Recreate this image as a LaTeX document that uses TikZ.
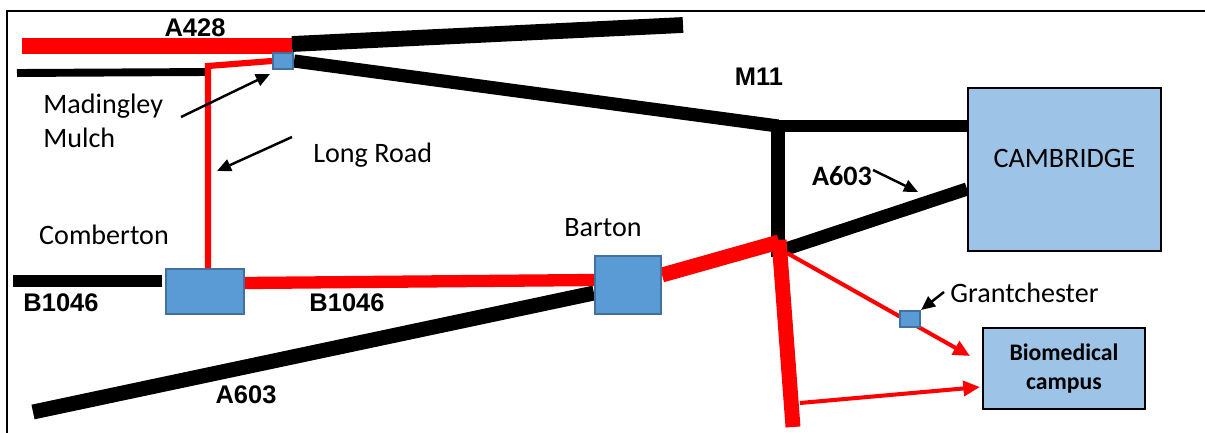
\documentclass[tikz,border=0pt]{standalone}
\usepackage{fontspec}
\setmainfont{Carlito}
\newfontfamily\roadfont{Liberation Sans}
\usetikzlibrary{arrows.meta,calc,positioning}
\definecolor{villageblue}{HTML}{5B9BD5}
\definecolor{villageedge}{HTML}{41719C}
\definecolor{townblue}{HTML}{9DC3E6}
\tikzset{
  village/.style={draw=villageedge,fill=villageblue,line width=1.2pt,inner sep=0pt},
  town/.style={draw=black,fill=townblue,line width=1pt,inner sep=0pt},
  place/.style={font=\fontsize{16}{19.5}\selectfont,inner sep=0pt},
  roadname/.style={font=\roadfont\bfseries\fontsize{14.5}{17}\selectfont,inner sep=0pt},
  pointer/.style={line width=1.4pt,-{Triangle[length=8pt,width=7pt]}},
  redpointer/.style={line width=2.3pt,red,-{Triangle[length=9.5pt,width=8.5pt]}}
}
\begin{document}
\begin{tikzpicture}[x=0.02cm,y=-0.02cm]
\useasboundingbox (0,0) rectangle (1205,433);
\draw[line width=1.2pt] (7,433) -- (7,11) -- (1205,11);

\coordinate (a428w) at (22,46);
\coordinate (a428m) at (292,46);
\coordinate (a428e) at (683,25);
\coordinate (a428j) at (292,44);
\coordinate (minorw) at (17,73);
\coordinate (minore) at (208,72);
\coordinate (longtop) at (208,66);
\coordinate (m11j) at (778,126);
\coordinate (m11s) at (778,257);
\coordinate (redj) at (779,242);
\coordinate (reds) at (793,427);
\coordinate (a603j) at (783,250);
\coordinate (a603w) at (33,412);
\coordinate (b1046w) at (13,281);
\coordinate (b1046e) at (162,281);

\node[village,minimum width=0.4cm,minimum height=0.32cm] (madingley) at (283,61) {};
\node[village,minimum width=1.56cm,minimum height=0.9cm] (comberton) at (205,291.5) {};
\node[village,minimum width=1.32cm,minimum height=1.16cm] (barton) at (628,285) {};
\node[town,minimum width=3.86cm,minimum height=3.26cm,
  label={[place,yshift=0.23cm]center:CAMBRIDGE}] (cambridge) at (1064.5,169.5) {};
\node[town,minimum width=3.24cm,minimum height=1.62cm,align=center,
  font=\bfseries\fontsize{13.5}{17}\selectfont] (biomed) at (1064,368.5) {Biomedical\\campus};

\coordinate (camw) at (cambridge.west |- m11j);
\coordinate (cama603) at (967,189);
\coordinate (biotipa) at (970,356);
\coordinate (biotipb) at (980,387);
\coordinate (biofoot) at (800,403);
\coordinate (redjb) at (787,253);

\draw[red,line width=9pt] (a428w) -- (a428m);
\draw[black,line width=9pt] (a428j) -- (a428e);
\draw[black,line width=4.5pt] (minorw) -- (minore);
\draw[red,line width=3.5pt] ($(comberton.north)+(3,0)$) -- (longtop) -- (madingley.west);
\draw[black,line width=7.5pt] (madingley.east) -- (m11j);
\draw[black,line width=6.5pt] ($(m11j)+(-4,0)$) -- (camw);
\draw[black,line width=8pt] (m11j) -- (m11s);
\draw[black,line width=7.5pt] (a603j) -- (cama603);
\draw[black,line width=7pt] (b1046w) -- (b1046e);
\draw[red,line width=7pt] ($(comberton.east)+(0,-8.5)$) -- ($(barton.west)+(0,-5)$);
\draw[black,line width=8.5pt] (a603w) -- ($(barton.west)+(0,8)$);
\draw[red,line width=8.5pt] ($(barton.east)+(0,-10)$) -- (redj);
\draw[red,line width=8.5pt] ($(redj)+(0,-2)$) -- (reds);
\draw[redpointer] (redjb) -- (biotipa);
\draw[redpointer] (biofoot) -- (biotipb);

\node[village,minimum width=0.4cm,minimum height=0.32cm] (grantchester) at (910,319) {};
\node[village,minimum width=0.4cm,minimum height=0.32cm] at (madingley) {};
\node[village,minimum width=1.32cm,minimum height=1.16cm] at (barton) {};

\node[roadname] (a428lab) at (195,28) {A428};
\node[roadname] (m11lab) at (759,77) {M11};
\node[roadname] (b1046lab) at (61,303) {B1046};
\node[roadname] (b1046mid) at (347,303) {B1046};
\node[roadname] (a603lab) at (246,395) {A603};
\node[font=\bfseries\fontsize{16}{19}\selectfont,inner sep=0pt] (a603cam) at (842,176) {A603};
\node[place,anchor=west,align=left] (madlab) at (43,121) {Madingley\\Mulch};
\node[place,anchor=west] (longlab) at (313,155) {Long Road};
\node[place] (comblab) at (104,235) {Comberton};
\node[place] (bartlab) at (603,228) {Barton};
\node[place,anchor=west] (grantlab) at (950,293) {Grantchester};

\coordinate (madtail) at (181,117);
\coordinate (madtip) at (270,74);
\coordinate (longtail) at (292,137);
\coordinate (longtip) at (217,171);
\coordinate (a603tail) at (873,170);
\coordinate (a603tip) at (918,192);
\coordinate (granttail) at (944,292);
\draw[pointer] (madtail) -- (madtip);
\draw[pointer] (longtail) -- (longtip);
\draw[pointer] (a603tail) -- (a603tip);
\draw[pointer] (granttail) -- (grantchester.north east);
\end{tikzpicture}
\end{document}
